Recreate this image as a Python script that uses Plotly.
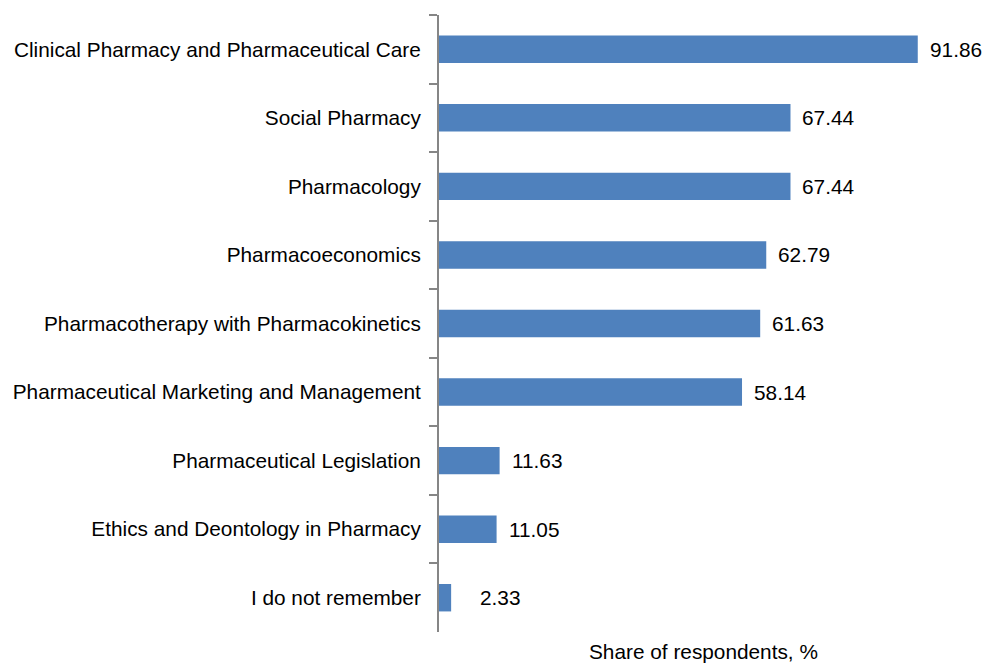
import plotly.graph_objects as go

categories = [
    "Clinical Pharmacy and Pharmaceutical Care",
    "Social Pharmacy",
    "Pharmacology",
    "Pharmacoeconomics",
    "Pharmacotherapy with Pharmacokinetics",
    "Pharmaceutical Marketing and Management",
    "Pharmaceutical Legislation",
    "Ethics and Deontology in Pharmacy",
    "I do not remember",
]
shares = [91.86, 67.44, 67.44, 62.79, 61.63, 58.14, 11.63, 11.05, 2.33]

FONT = "Liberation Sans, Arial, sans-serif"
FS = 20.8

fig = go.Figure(
    go.Bar(
        x=shares,
        y=categories,
        orientation="h",
        marker=dict(color="#4F81BD", line=dict(width=0)),
        width=0.4,
    )
)

# value labels sit right of each bar end (the tiny bar's label is pushed further out)
for cat, val in zip(categories, shares):
    fig.add_annotation(
        x=val, y=cat, text=f"{val:.2f}", showarrow=False,
        xanchor="left", xshift=10 if val > 5 else 27,
        font=dict(family=FONT, size=FS, color="#000000"),
    )

fig.add_annotation(
    text="Share of respondents, %", xref="paper", yref="paper",
    x=0.5, y=0, yshift=-19, yanchor="middle", showarrow=False,
    font=dict(family=FONT, size=FS, color="#000000"),
)

fig.update_layout(
    width=982,
    height=663,
    margin=dict(l=439, r=14, t=15, b=31),
    paper_bgcolor="white",
    plot_bgcolor="white",
    font=dict(family=FONT, size=FS, color="#000000"),
    showlegend=False,
    xaxis=dict(range=[0, 101.5], visible=False),
    yaxis=dict(
        autorange="reversed",
        showline=True,
        linecolor="#868686",
        linewidth=2,
        ticks="outside",
        ticklen=8,
        tickcolor="#868686",
        tickwidth=2,
        tickson="boundaries",
        ticklabelstandoff=12,
        showgrid=False,
        zeroline=False,
    ),
)

# drop the default page margin so the figure fills the window exactly
fig.write_html(
    "out.html",
    config={"displayModeBar": False},
    post_script="document.body.style.margin='0';document.body.style.overflow='hidden';",
)
